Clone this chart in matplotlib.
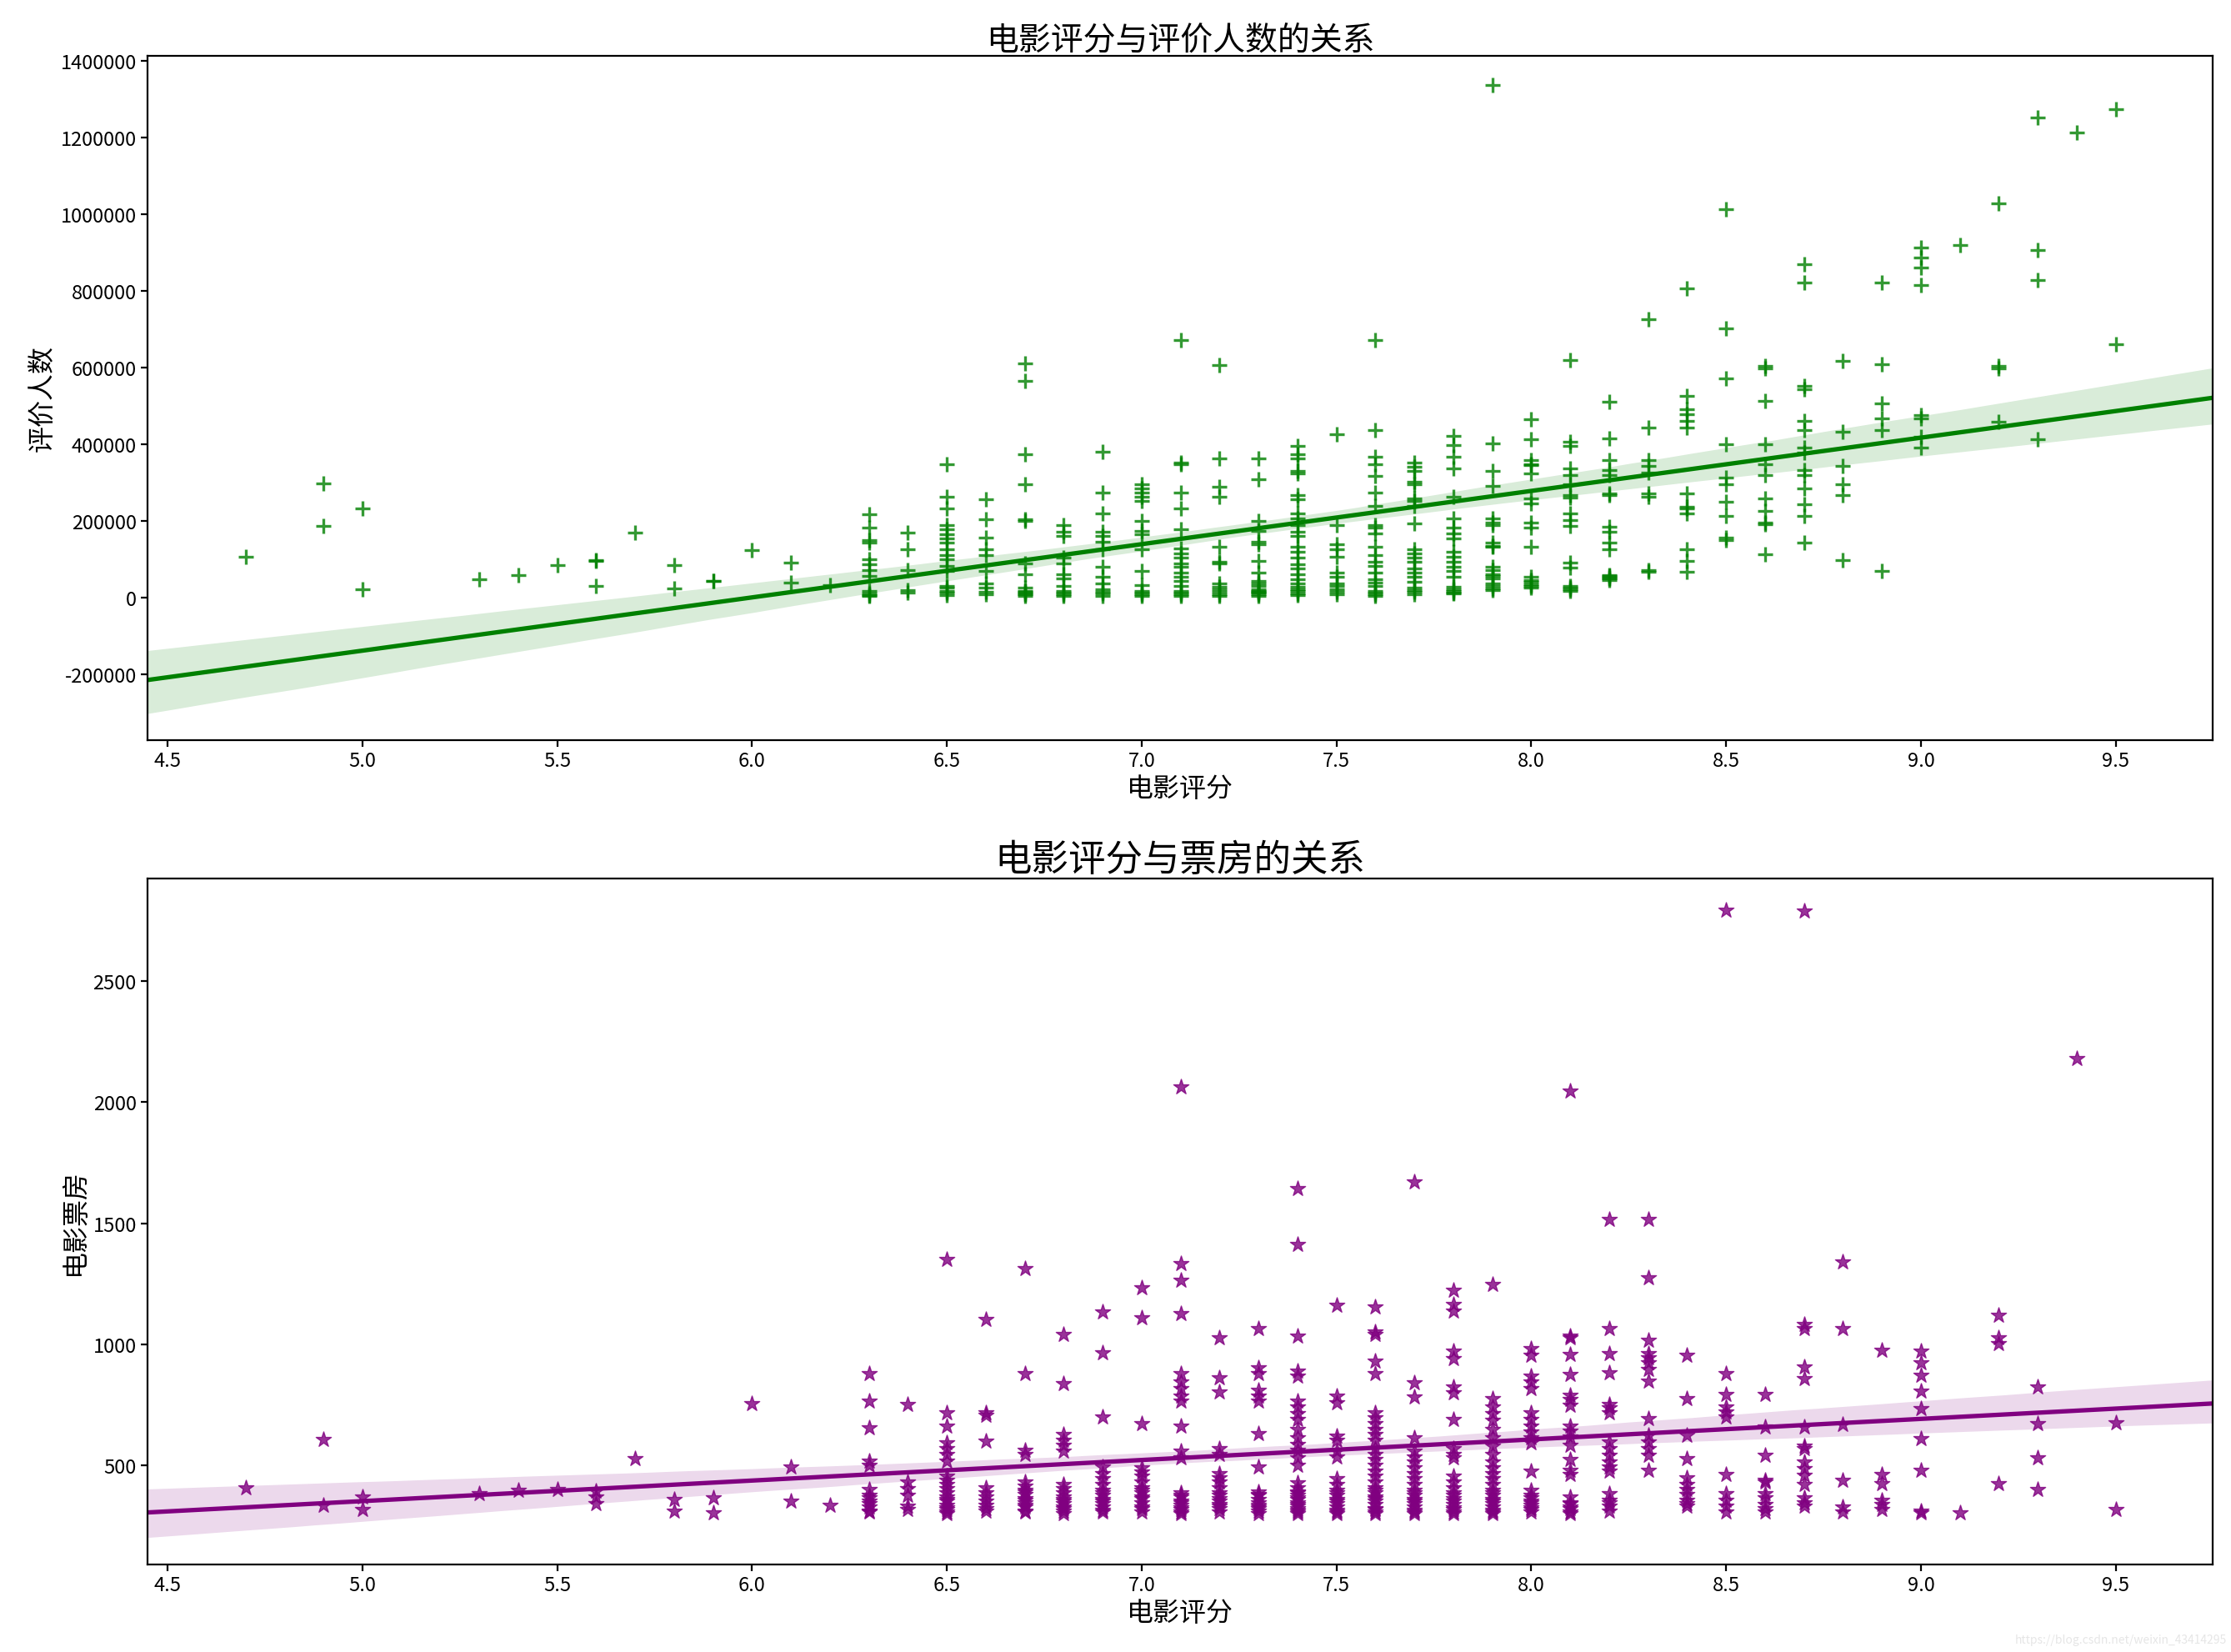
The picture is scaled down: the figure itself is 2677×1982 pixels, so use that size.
import matplotlib
matplotlib.use('Agg')
import matplotlib.pyplot as plt
import seaborn as sns

plt.rcParams['font.family'] = ['Noto Sans CJK SC', 'DejaVu Sans']
plt.rcParams['axes.unicode_minus'] = True

# score values (x) and, per score, the number of ratings (thousands)
scores = [4.7, 4.9, 5.0, 5.3, 5.4, 5.5, 5.6, 5.7, 5.8, 5.9, 6.0, 6.1, 6.2,
          6.3, 6.4, 6.5, 6.6, 6.7, 6.8, 6.9, 7.0, 7.1, 7.2, 7.3, 7.4, 7.5,
          7.6, 7.7, 7.8, 7.9, 8.0, 8.1, 8.2, 8.3, 8.4, 8.5, 8.6, 8.7, 8.8,
          8.9, 9.0, 9.1, 9.2, 9.3, 9.4, 9.5]

votes_k = [
    [106], [298, 186], [232, 21], [47], [59], [85], [98, 96, 29], [170],
    [85, 24], [44, 42], [123], [91, 39], [33],
    [217, 181, 150, 142, 100, 86, 72, 57, 18, 10, 6, 4],
    [170, 125, 72, 20, 12],
    [348, 263, 231, 189, 178, 164, 153, 142, 125, 111, 100, 82, 68, 30, 26,
     18, 12, 6],
    [256, 203, 157, 125, 111, 68, 36, 26, 15, 8],
    [610, 565, 373, 295, 203, 199, 89, 61, 26, 18, 14, 11, 8, 4],
    [189, 171, 160, 104, 89, 61, 50, 29, 18, 12, 8, 4],
    [380, 274, 220, 171, 160, 146, 125, 79, 54, 36, 22, 15, 10, 4],
    [295, 284, 274, 263, 252, 199, 174, 164, 125, 68, 33, 18, 12, 8, 4],
    [670, 352, 348, 274, 231, 178, 128, 114, 104, 89, 79, 64, 54, 43, 30, 18,
     12, 8, 4],
    [605, 362, 288, 263, 132, 93, 89, 36, 28, 22, 15, 8, 4],
    [362, 309, 199, 174, 146, 139, 96, 64, 43, 36, 29, 22, 18, 15, 12, 8, 4],
    [394, 373, 362, 330, 323, 267, 256, 220, 206, 189, 171, 160, 132, 118,
     104, 86, 75, 61, 47, 36, 28, 22, 16, 11, 5],
    [426, 189, 139, 125, 107, 64, 54, 36, 30, 22, 15, 8],
    [670, 437, 366, 348, 316, 274, 238, 189, 181, 167, 132, 111, 93, 82, 64,
     47, 38, 29, 18, 12, 8, 4],
    [352, 341, 330, 302, 295, 259, 252, 238, 192, 125, 114, 104, 93, 75, 64,
     54, 40, 26, 20, 15, 8],
    [422, 397, 366, 337, 263, 206, 181, 167, 153, 118, 107, 93, 79, 68, 54,
     28, 22, 18, 12, 10],
    [1335, 401, 330, 291, 206, 196, 189, 142, 135, 132, 79, 71, 61, 55, 50,
     36, 30, 24, 20],
    [465, 412, 359, 348, 344, 323, 259, 245, 196, 181, 132, 54, 45, 40, 35,
     29, 25],
    [619, 405, 396, 337, 319, 296, 266, 260, 219, 201, 186, 90, 78, 30, 26,
     22, 18],
    [510, 415, 358, 331, 319, 272, 266, 184, 172, 143, 125, 58, 55, 52, 49,
     46],
    [725, 443, 358, 343, 325, 272, 263, 72, 66],
    [805, 525, 490, 478, 460, 443, 272, 237, 231, 219, 125, 96, 66],
    [1013, 701, 570, 399, 313, 296, 249, 213, 157, 149],
    [604, 598, 513, 399, 348, 319, 258, 225, 196, 190, 113],
    [869, 822, 551, 543, 460, 437, 390, 378, 331, 319, 284, 243, 213, 143],
    [617, 431, 343, 296, 266, 98],
    [820, 607, 505, 466, 437, 69],
    [913, 887, 861, 814, 475, 466, 419, 390],
    [918],
    [1028, 604, 598, 457],
    [1252, 906, 828, 413],
    [1213],
    [1274, 660],
]

# box office per score
box_office = [
    [408], [607, 335], [367, 317], [382], [397], [401], [392, 367, 341],
    [528], [358, 311], [364, 304], [756], [491, 352], [335],
    [879, 764, 655, 517, 500, 400, 375, 365, 350, 340, 328, 310, 305],
    [750, 431, 403, 374, 330, 317],
    [1350, 718, 661, 592, 569, 546, 517, 454, 437, 420, 402, 385, 368,
     360, 351, 334, 325, 317, 305, 299],
    [1103, 718, 707, 598, 408, 385, 370, 350, 334, 320, 311],
    [1313, 879, 563, 546, 431, 414, 397, 390, 380, 362, 355, 345, 335, 328,
     310, 305],
    [1040, 838, 626, 603, 581, 558, 420, 403, 385, 368, 360, 351, 340, 328,
     320, 311, 300],
    [1132, 965, 701, 494, 466, 443, 420, 397, 385, 374, 360, 351, 340, 328,
     315, 305],
    [1235, 1109, 672, 489, 471, 454, 431, 408, 395, 385, 370, 362, 345, 328,
     320, 305],
    [2065, 1332, 1264, 1126, 879, 845, 816, 787, 764, 661, 558, 529, 385,
     375, 368, 351, 345, 334, 325, 317, 305, 300],
    [1028, 862, 804, 569, 546, 466, 449, 431, 408, 385, 375, 362, 350, 339,
     330, 322, 305],
    [1063, 902, 879, 810, 787, 764, 632, 494, 391, 380, 374, 360, 345, 335,
     328, 320, 311, 300],
    [1645, 1413, 1034, 890, 867, 764, 741, 713, 690, 649, 615, 586, 563, 529,
     500, 426, 408, 391, 385, 374, 365, 357, 345, 339, 330, 322, 315, 305,
     300],
    [1160, 787, 758, 621, 603, 558, 535, 443, 420, 397, 385, 374, 360, 351,
     340, 328, 315, 305, 300],
    [1155, 1051, 1040, 931, 879, 718, 695, 672, 649, 626, 603, 569, 546, 523,
     500, 477, 454, 431, 408, 395, 385, 370, 362, 350, 339, 320, 317, 305,
     299],
    [1670, 839, 781, 615, 558, 535, 512, 489, 466, 443, 420, 397, 385, 374,
     360, 351, 340, 328, 315, 305, 300],
    [1223, 1166, 1137, 971, 942, 822, 799, 690, 569, 546, 529, 454, 431, 408,
     385, 375, 362, 350, 339, 325, 317, 305, 299],
    [1246, 776, 741, 713, 684, 649, 615, 580, 546, 512, 489, 466, 443, 420,
     397, 385, 374, 360, 351, 340, 328, 315, 305, 300],
    [982, 954, 868, 845, 816, 718, 690, 661, 638, 615, 592, 477, 397, 374,
     365, 351, 345, 334, 325, 317, 305],
    [2046, 1032, 1027, 958, 874, 790, 771, 747, 663, 640, 616, 584, 522, 480,
     461, 367, 345, 340, 326, 320, 307, 300],
    [1517, 1064, 962, 883, 752, 737, 715, 597, 569, 541, 513, 491, 476, 382,
     354, 345, 330, 310],
    [1517, 1276, 1018, 962, 943, 924, 896, 849, 691, 625, 597, 569, 541, 479],
    [956, 775, 625, 528, 448, 420, 401, 379, 354, 340, 330],
    [2793, 878, 793, 741, 719, 700, 461, 382, 354, 330, 307],
    [793, 659, 541, 438, 429, 382, 364, 336, 320, 307],
    [2790, 1083, 1064, 906, 859, 659, 579, 569, 513, 485, 457, 420, 364, 345,
     330],
    [1339, 1064, 668, 438, 326, 307],
    [975, 461, 423, 354, 336, 317],
    [971, 924, 872, 806, 734, 610, 479, 311, 304],
    [304],
    [1120, 1027, 1004, 423],
    [825, 672, 532, 401],
    [2182],
    [677, 317],
]

x_votes, y_votes = [], []
for s, vals in zip(scores, votes_k):
    for v in vals:
        x_votes.append(s)
        y_votes.append(v * 1000)

x_box, y_box = [], []
for s, vals in zip(scores, box_office):
    for v in vals:
        x_box.append(s)
        y_box.append(v)

x_ticks = [4.5, 5.0, 5.5, 6.0, 6.5, 7.0, 7.5, 8.0, 8.5, 9.0, 9.5]

fig = plt.figure(figsize=(26.77, 19.83), dpi=100)
ax1 = fig.add_axes([0.0661, 0.5517, 0.9257, 0.4140])
ax2 = fig.add_axes([0.0661, 0.0530, 0.9257, 0.4150])

tick_size = 17
label_size = 23

for ax in (ax1, ax2):
    ax.set_xlim(4.448, 9.749)

sns.regplot(x=x_votes, y=y_votes, ax=ax1, marker='+', color='green',
            truncate=False, seed=1,
            scatter_kws={'s': 150, 'linewidths': 2.4},
            line_kws={'lw': 3.8})
ax1.set_ylim(-372000, 1412000)
ax1.set_yticks(range(-200000, 1400001, 200000))
ax1.set_yticklabels([str(v) for v in range(-200000, 1400001, 200000)])
ax1.set_title('电影评分与评价人数的关系', fontsize=28)
ax1.set_xlabel('电影评分', fontsize=label_size)
ax1.set_ylabel('评价人数', fontsize=label_size)

sns.regplot(x=x_box, y=y_box, ax=ax2, marker='*', color='purple',
            truncate=False, seed=1,
            scatter_kws={'s': 190},
            line_kws={'lw': 3.8})
ax2.set_ylim(90, 2925)
ax2.set_yticks([500, 1000, 1500, 2000, 2500])
ax2.set_title('电影评分与票房的关系', fontsize=32)
ax2.set_xlabel('电影评分', fontsize=label_size)
ax2.set_ylabel('电影票房', fontsize=label_size)

for ax in (ax1, ax2):
    ax.set_xticks(x_ticks)
    ax.set_xticklabels(['%.1f' % t for t in x_ticks])
    ax.tick_params(labelsize=tick_size, width=1.6, length=6)
    for sp in ax.spines.values():
        sp.set_linewidth(1.6)

fig.text(0.998, 0.004, 'https://blog.csdn.net/weixin_43414295',
         ha='right', va='bottom', fontsize=10, color='#e6e6e6')

fig.savefig('out.png', dpi=100)
